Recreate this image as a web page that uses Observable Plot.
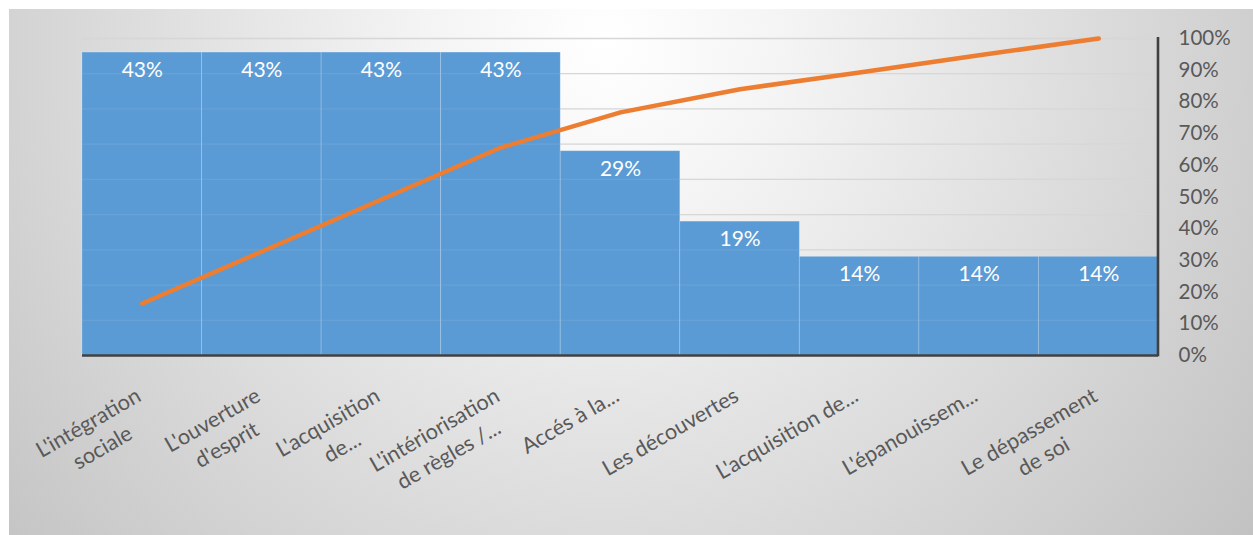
<!DOCTYPE html>
<html>
<head>
<meta charset="utf-8">
<script src="https://cdn.jsdelivr.net/npm/d3@7"></script>
<script src="https://cdn.jsdelivr.net/npm/@observablehq/plot@0.6"></script>
<style>
  html, body { margin: 0; padding: 0; background: #ffffff; }
  #wrap { position: relative; width: 1253px; height: 535px; overflow: hidden; }
  #bg { position: absolute; left: 9px; top: 9px; width: 1244px; height: 526px;
        background: radial-gradient(circle farthest-corner at 48% 6%, #ffffff 0%, #f4f4f4 22%, #c2c2c2 100%); }
  #chart { position: absolute; left: 0; top: 0; }
</style>
</head>
<body>
<div id="wrap"><div id="bg"></div><div id="chart"></div></div>
<script>
// Categories (x-axis labels, as wrapped in the picture)
const categories = [
  "L'intégration\nsociale",
  "L'ouverture\nd'esprit",
  "L'acquisition\nde...",
  "L'intériorisation\nde règles /...",
  "Accés à la...",
  "Les découvertes",
  "L'acquisition de...",
  "L'épanouissem...",
  "Le dépassement\nde soi"
];
// Bar values (share of respondents)
const shares = [0.43, 0.43, 0.43, 0.43, 0.29, 0.19, 0.14, 0.14, 0.14];
// Cumulative percentage (orange line, right axis)
const cumulative = [0.164, 0.328, 0.492, 0.656, 0.767, 0.840, 0.893, 0.947, 1.00];
// Primary (hidden) axis maximum and its gridline ticks
const primaryMax = 0.45;
const gridTicks = [0.05, 0.10, 0.15, 0.20, 0.25, 0.30, 0.35, 0.40, 0.45];
// Right axis ticks
const rightTicks = [0, 0.1, 0.2, 0.3, 0.4, 0.5, 0.6, 0.7, 0.8, 0.9, 1.0];

const data = categories.map((c, i) => ({cat: c, share: shares[i], cum: cumulative[i]}));

const FONT = "Lato, 'Open Sans', sans-serif";
const FS = 20.5;
const FSX = 21.6;

const rightLine = (index, scales, values, dimensions) => {
  const x = dimensions.width - dimensions.marginRight;
  return d3.create("svg:line")
    .attr("x1", x).attr("x2", x)
    .attr("y1", dimensions.marginTop - 1)
    .attr("y2", dimensions.height - dimensions.marginBottom + 1.2)
    .attr("stroke", "#404040").attr("stroke-width", 2.6)
    .node();
};

const plot = Plot.plot({
  width: 1253,
  height: 535,
  marginLeft: 82,
  marginRight: 95,
  marginTop: 38,
  marginBottom: 180,
  style: {background: "transparent", fontFamily: FONT},
  x: {type: "band", domain: categories, padding: 0, round: false, axis: null},
  y: {domain: [0, primaryMax], axis: null},
  marks: [
    Plot.ruleY(gridTicks, {stroke: "#d4d4d4", strokeWidth: 1.3}),
    Plot.barY(data, {x: "cat", y: "share", fill: "#5b9bd5", stroke: "#ffffff", strokeOpacity: 0.18, strokeWidth: 1}),
    Plot.ruleY(gridTicks, {stroke: "#ffffff", strokeOpacity: 0.07, strokeWidth: 1.3}),
    Plot.ruleY([0], {stroke: "#404040", strokeWidth: 2.6}),
    rightLine,
    Plot.axisY({
      anchor: "right",
      ticks: rightTicks.map(t => t * primaryMax),
      tickFormat: t => Math.round(t / primaryMax * 100) + "%",
      tickSize: 0,
      tickPadding: 20,
      color: "#595959",
      fontSize: FS,
      fontFamily: FONT,
      label: null
    }),
    Plot.line(data, {x: "cat", y: d => d.cum * primaryMax, stroke: "#ed7d31", strokeWidth: 4.5, strokeLinejoin: "round"}),
    Plot.text(data, {
      x: "cat", y: "share",
      text: d => Math.round(d.share * 100) + "%",
      fill: "#ffffff", lineAnchor: "top", dy: 9.5,
      fontSize: 21, fontFamily: FONT
    }),
    Plot.text(data, {
      x: "cat", text: "cat", frameAnchor: "bottom",
      rotate: -30, textAnchor: "end", lineAnchor: "top",
      dx: -10, dy: 27, lineHeight: 1.32,
      fill: "#595959", fontSize: FSX, fontFamily: FONT,
      className: "xlab"
    })
  ]
});

document.getElementById("chart").appendChild(plot);

// Center wrapped lines within each rotated label block (as in the original)
plot.querySelectorAll(".xlab text").forEach(t => {
  const spans = Array.from(t.querySelectorAll("tspan"));
  if (spans.length < 2) return;
  const lens = spans.map(s => s.getComputedTextLength());
  const L = Math.max(...lens);
  spans.forEach((s, i) => s.setAttribute("x", -(L - lens[i]) / 2));
});
</script>
</body>
</html>
